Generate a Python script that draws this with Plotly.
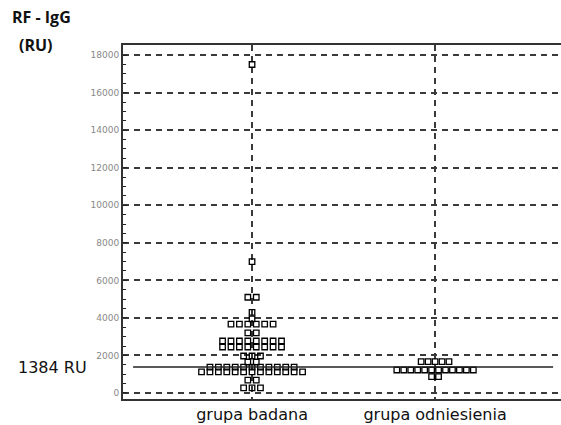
import plotly.graph_objects as go
from collections import Counter

# ---- data ----
categories = ["grupa badana", "grupa odniesienia"]
group_badana = (
    [17500, 7000] + [5100] * 2 + [4300, 3950] + [3670] * 6 + [3200] * 2 +
    [2770] * 8 + [2450] * 8 + [1970] * 3 + [1650] * 2 + [1380] * 11 +
    [1120] * 13 + [690] * 2 + [270] * 3
)
group_odniesienia = [1670] * 5 + [1225] * 12 + [870] * 2
reference_value = 1384
reference_label = "1384 RU"
y_tick_values = list(range(0, 18001, 2000))
y_title_line1 = "RF - IgG"
y_title_line2 = "(RU)"

# ---- styling ----
spacing = {0: 0.046, 1: 0.038}   # horizontal spread of stacked dots (x units)
GRID = "#3a3a3a"


def dot_positions(values, center, step):
    counts = Counter(values)
    seen = Counter()
    xs, ys = [], []
    for v in values:
        n = counts[v]
        i = seen[v]
        seen[v] += 1
        xs.append(center + (i - (n - 1) / 2) * step)
        ys.append(v)
    return xs, ys


fig = go.Figure()
for gi, vals in enumerate([group_badana, group_odniesienia]):
    xs, ys = dot_positions(vals, gi, spacing[gi])
    fig.add_trace(go.Scatter(
        x=xs, y=ys, mode="markers",
        marker=dict(symbol="square-open", size=5.5, color="black",
                    line=dict(width=1.3, color="black")),
        showlegend=False, hoverinfo="y",
    ))

fig.add_shape(type="line", xref="paper", yref="y",
              x0=0.023, x1=0.982, y0=reference_value, y1=reference_value,
              line=dict(color="#222", width=1.5))

fig.add_annotation(text=reference_label, xref="paper", yref="y",
                   x=-0.160, y=reference_value, xanchor="center",
                   showarrow=False,
                   font=dict(family="DejaVu Sans", size=16, color="#111"))
title_font = dict(family="Open Sans", size=16, color="#111", weight=700)
fig.add_annotation(text=y_title_line1, xref="paper", yref="paper",
                   x=-0.258, y=1.079, xanchor="left", yanchor="middle",
                   showarrow=False, font=title_font)
fig.add_annotation(text=y_title_line2, xref="paper", yref="paper",
                   x=-0.242, y=1.0, xanchor="left", yanchor="middle",
                   showarrow=False, font=title_font)

fig.update_layout(
    width=561, height=425,
    margin=dict(l=123, r=0, t=45, b=26),
    paper_bgcolor="white", plot_bgcolor="white",
    font=dict(family="DejaVu Sans"),
    xaxis=dict(
        range=[-0.705, 1.688],
        tickvals=[0, 1], ticktext=categories,
        tickfont=dict(family="DejaVu Sans", size=16, color="#111"),
        showgrid=True, gridcolor=GRID, gridwidth=1.5, griddash="6px,5px",
        showline=True, linecolor="#333", linewidth=2, mirror=True,
        ticks="", zeroline=False,
    ),
    yaxis=dict(
        range=[-320, 18540],
        tickvals=y_tick_values, tickformat="d",
        tickfont=dict(family="DejaVu Sans", size=9, color="#888"),
        showgrid=True, gridcolor=GRID, gridwidth=1.5, griddash="6px,5px",
        showline=True, linecolor="#333", linewidth=2,
        ticks="inside", ticklen=4, tickcolor="#222",
        minor=dict(dtick=500, ticks="inside", ticklen=3, tickcolor="#222", showgrid=False),
        zeroline=False,
    ),
)

fig.write_html("out.html", config={"displayModeBar": False},
               post_script="document.body.style.margin='0';")
